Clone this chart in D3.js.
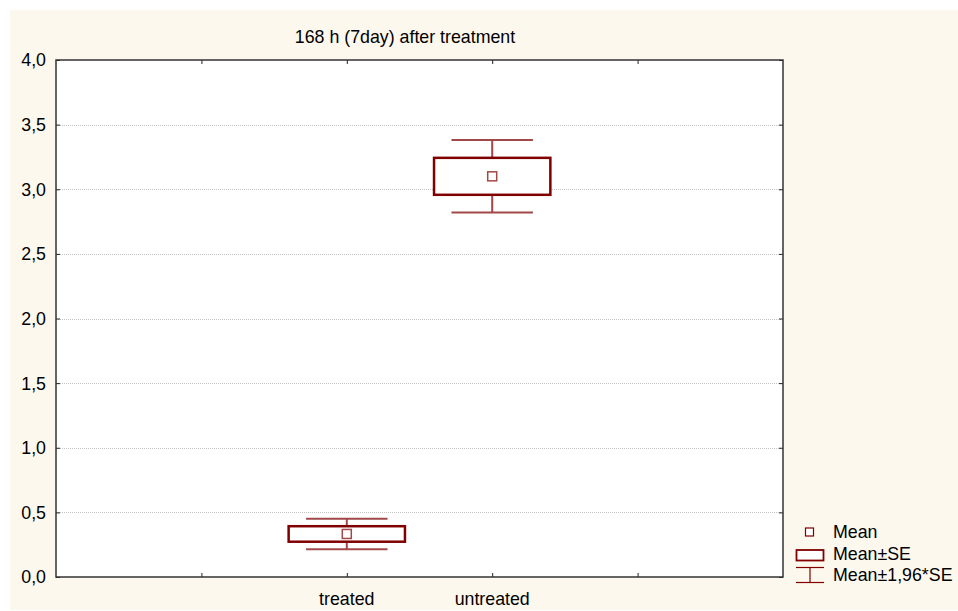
<!DOCTYPE html>
<html><head><meta charset="utf-8">
<script src="https://cdn.jsdelivr.net/npm/d3@7"></script>
<style>body{margin:0;background:#fff}svg{display:block}text{font-family:"Liberation Sans",Arial,sans-serif;fill:#000}</style>
</head><body><svg id="c" width="958" height="611"></svg>
<script>
const title = "168 h (7day) after treatment";
const categories = ["treated", "untreated"];
const means = [0.333, 3.10];
const se = [0.060, 0.143];
const ciFactor = 1.96;
const yTicks = [0, 0.5, 1.0, 1.5, 2.0, 2.5, 3.0, 3.5, 4.0];
const legendLabels = ["Mean", "Mean\u00b1SE", "Mean\u00b11,96*SE"];

const svg = d3.select("#c");
const W = 958, H = 611;
const m = {l: 56, r: 783, t: 60, b: 577};
const red = "#800000";
const fs = "17.8px";

svg.append("rect").attr("x", 10).attr("y", 10).attr("width", W - 10).attr("height", H - 11).attr("fill", "#fdf8ee");
svg.append("rect").attr("x", m.l).attr("y", m.t).attr("width", m.r - m.l).attr("height", m.b - m.t).attr("fill", "#fff");

const y = d3.scaleLinear().domain([0, 4]).range([m.b, m.t]);
// 5 equal slots; categories sit on the 2nd and 3rd tick
const x = d3.scaleLinear().domain([0, 5]).range([m.l, m.r]);
const catPos = i => i + 2;
const slot = x(1) - x(0);

// gridlines
svg.append("g").selectAll("line").data(yTicks.filter(d => d > 0 && d < 4)).join("line")
  .attr("x1", m.l).attr("x2", m.r).attr("y1", d => Math.round(y(d)) + 0.5).attr("y2", d => Math.round(y(d)) + 0.5)
  .attr("stroke", "#c4c4c4").attr("stroke-width", 1).attr("stroke-dasharray", "1,1");

const fmt = d => d3.format(".1f")(d).replace(".", ",");

// axes with inward ticks
const yl = svg.append("g").attr("transform", `translate(${m.l},0)`).call(d3.axisRight(y).tickValues(yTicks).tickSize(4).tickFormat(""));
const yr = svg.append("g").attr("transform", `translate(${m.r},0)`).call(d3.axisLeft(y).tickValues(yTicks).tickSize(4).tickFormat(""));
const xb = svg.append("g").attr("transform", `translate(0,${m.b})`).call(d3.axisTop(x).tickValues([1, 2, 3, 4]).tickSize(4).tickFormat(""));
const xt = svg.append("g").attr("transform", `translate(0,${m.t})`).call(d3.axisBottom(x).tickValues([1, 2, 3, 4]).tickSize(4).tickFormat(""));
[yl, yr, xb, xt].forEach(g => { g.select(".domain").remove(); g.selectAll("line").attr("stroke", "#222"); });

// frame
svg.append("rect").attr("x", m.l).attr("y", m.t).attr("width", m.r - m.l).attr("height", m.b - m.t)
  .attr("fill", "none").attr("stroke", "#333").attr("stroke-width", 1.5);

// y labels
svg.append("g").selectAll("text").data(yTicks).join("text")
  .attr("x", 46).attr("y", d => y(d)).attr("dy", "0.36em").attr("text-anchor", "end")
  .style("font-size", fs).text(fmt);

// x labels
svg.append("g").selectAll("text").data(categories).join("text")
  .attr("x", (d, i) => x(catPos(i))).attr("y", 605).attr("text-anchor", "middle")
  .style("font-size", fs).text(d => d);

// title
svg.append("text").attr("x", 405).attr("y", 43).attr("text-anchor", "middle").style("font-size", fs).text(title);

// boxes
const boxW = slot * 0.8, capW = slot * 0.56, mk = 9;
const g = svg.append("g").selectAll("g").data(categories).join("g");
g.each(function(d, i) {
  const s = d3.select(this), cx = x(catPos(i));
  const lo = means[i] - ciFactor * se[i], hi = means[i] + ciFactor * se[i];
  const blo = means[i] - se[i], bhi = means[i] + se[i];
  s.append("line").attr("x1", cx).attr("x2", cx).attr("y1", y(hi)).attr("y2", y(lo)).attr("stroke", "#a24848").attr("stroke-width", 2);
  [hi, lo].forEach(v => s.append("line").attr("x1", cx - capW / 2).attr("x2", cx + capW / 2).attr("y1", y(v)).attr("y2", y(v))
    .attr("stroke", "#a24848").attr("stroke-width", 2));
  s.append("rect").attr("x", cx - boxW / 2).attr("y", y(bhi)).attr("width", boxW).attr("height", y(blo) - y(bhi))
    .attr("fill", "#fff").attr("stroke", red).attr("stroke-width", 2.5);
  s.append("rect").attr("x", cx - mk / 2).attr("y", y(means[i]) - mk / 2).attr("width", mk).attr("height", mk)
    .attr("fill", "#fff").attr("stroke", "#a24848").attr("stroke-width", 1.5);
});

// legend
const lx = 809.5, ly = [532, 554, 575];
svg.append("rect").attr("x", lx - 4).attr("y", ly[0] - 4).attr("width", 8).attr("height", 8)
  .attr("fill", "#fff").attr("stroke", red).attr("stroke-width", 1.2);
svg.append("rect").attr("x", 796.5).attr("y", 550).attr("width", 27).attr("height", 10.5)
  .attr("fill", "#fff").attr("stroke", red).attr("stroke-width", 1.8);
svg.append("line").attr("x1", 796).attr("x2", 824).attr("y1", 567.5).attr("y2", 567.5).attr("stroke", red).attr("stroke-width", 1.2);
svg.append("line").attr("x1", 796).attr("x2", 824).attr("y1", 582.5).attr("y2", 582.5).attr("stroke", red).attr("stroke-width", 1.2);
svg.append("line").attr("x1", 810).attr("x2", 810).attr("y1", 567.5).attr("y2", 582.5).attr("stroke", red).attr("stroke-width", 1.2);
svg.append("g").selectAll("text").data(legendLabels).join("text")
  .attr("x", 833).attr("y", (d, i) => ly[i] + 6).style("font-size", fs).text(d => d);
</script></body></html>
